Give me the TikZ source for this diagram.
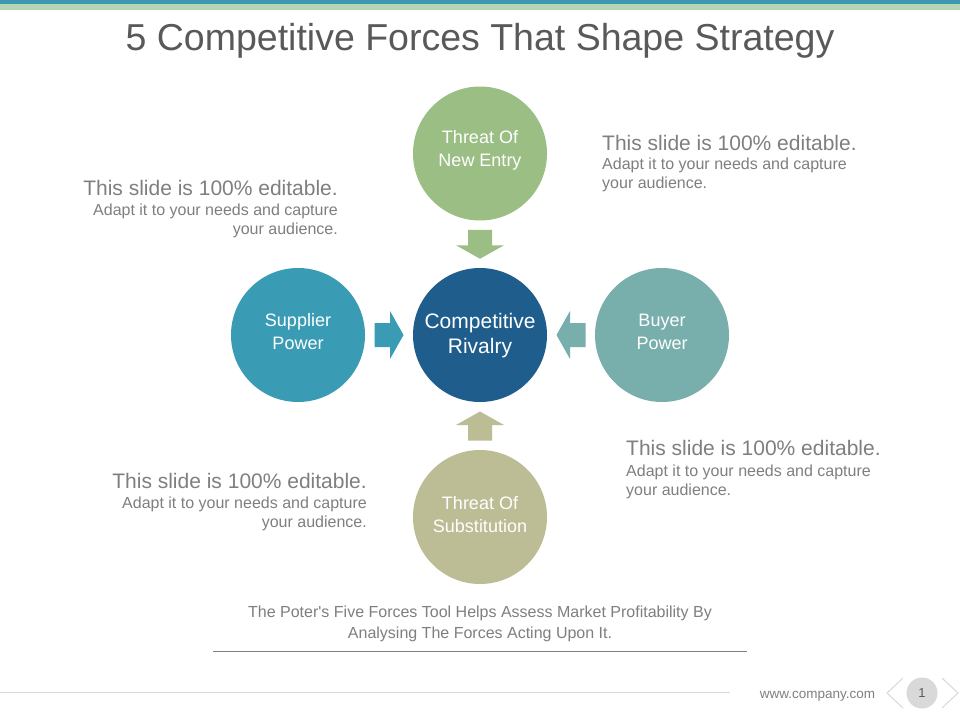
\documentclass[tikz,border=0pt]{standalone}
\usepackage{fontspec}
\setmainfont{Liberation Sans}
\usetikzlibrary{calc}
\definecolor{barteal}{HTML}{3D97B0}
\definecolor{bargreen}{HTML}{B6D5B3}
\definecolor{cgreen}{HTML}{9BBE84}
\definecolor{cblue}{HTML}{1F5E8C}
\definecolor{cteal}{HTML}{3A9BB5}
\definecolor{cslate}{HTML}{78AEAB}
\definecolor{colive}{HTML}{BCBD94}
\definecolor{titlegray}{HTML}{595959}
\definecolor{textgray}{HTML}{7F7F7F}
\definecolor{lightline}{HTML}{D9D9D9}
\definecolor{pagecirc}{HTML}{D9D9D9}
\newcommand{\fsz}[2]{\fontsize{#1}{#2}\selectfont}
\newcommand{\forcearrow}[3]{%
  \begin{scope}[shift={(#1)}, rotate=#2]
    \fill[#3] (-14.5,-12) -- (1,-12) -- (1,-24) -- (14.5,0) -- (1,24) -- (1,12) -- (-14.5,12) -- cycle;
  \end{scope}}
\tikzset{
  force/.style={circle, minimum size=134pt, inner sep=0pt},
  forcetext/.style={inner sep=0pt, text=white, align=center, font=\fsz{18}{23}},
  headtxt/.style={inner sep=0pt, text=textgray, font=\fsz{21}{25}},
  bodytxt/.style={inner sep=0pt, text=textgray, font=\fsz{16}{19}},
}
\begin{document}
\begin{tikzpicture}[x=1pt,y=-1pt]
\useasboundingbox (0,0) rectangle (960,720);
\fill[white] (0,0) rectangle (960,720);
% top bar
\fill[barteal] (0,0) rectangle (960,4);
\fill[bargreen] (0,4) rectangle (960,10);
% title
\node[inner sep=0pt, anchor=base, text=titlegray, font=\fsz{37.5}{42}] (title) at (480,50) {5 Competitive Forces That Shape Strategy};
% circles
\node[force, fill=cgreen] (entry) at (480,153.5) {};
\node[force, fill=cblue] (rivalry) at (480,335) {};
\node[force, fill=cteal] (supplier) at (298,335) {};
\node[force, fill=cslate] (buyer) at (662,335) {};
\node[force, fill=colive] (subst) at (480,517) {};
\node[forcetext] (entryT) at ($(entry)+(0,-3)$) {Threat Of\\New Entry};
\node[forcetext, font=\fsz{21}{25}] (rivalryT) at ($(rivalry)+(0,1)$) {Competitive\\Rivalry};
\node[forcetext] (supplierT) at ($(supplier)+(0,-3.5)$) {Supplier\\Power};
\node[forcetext] (buyerT) at ($(buyer)+(0,-3.5)$) {Buyer\\Power};
\node[forcetext] (substT) at ($(subst)+(0,-2.5)$) {Threat Of\\Substitution};
% arrows
\coordinate (aTop) at ($(entry.south)!0.5!(rivalry.north)$);
\coordinate (aLeft) at ($(supplier.east)!0.5!(rivalry.west)$);
\coordinate (aRight) at ($(buyer.west)!0.5!(rivalry.east)$);
\coordinate (aBottom) at ($(subst.north)!0.5!(rivalry.south)$);
\forcearrow{aTop}{-90}{cgreen}
\forcearrow{aLeft}{0}{cteal}
\forcearrow{aRight}{180}{cslate}
\forcearrow{aBottom}{90}{colive}
% text blocks: top left
\node[headtxt, anchor=base east] (tlh) at (338,195) {This slide is 100\% editable.};
\node[bodytxt, anchor=base east] (tl1) at (338,215) {Adapt it to your needs and capture};
\node[bodytxt, anchor=base east] (tl2) at (338,234) {your audience.};
% top right
\node[headtxt, anchor=base west] (trh) at (602,150) {This slide is 100\% editable.};
\node[bodytxt, anchor=base west] (tr1) at (602,169.5) {Adapt it to your needs and capture};
\node[bodytxt, anchor=base west] (tr2) at (602,188.5) {your audience.};
% bottom left
\node[headtxt, anchor=base east] (blh) at (367,488) {This slide is 100\% editable.};
\node[bodytxt, anchor=base east] (bl1) at (367,508.5) {Adapt it to your needs and capture};
\node[bodytxt, anchor=base east] (bl2) at (367,527.5) {your audience.};
% bottom right
\node[headtxt, anchor=base west] (brh) at (626,455.5) {This slide is 100\% editable.};
\node[bodytxt, anchor=base west] (br1) at (626,476) {Adapt it to your needs and capture};
\node[bodytxt, anchor=base west] (br2) at (626,495) {your audience.};
% caption
\node[bodytxt, anchor=base] (cap1) at (480,617) {The Poter\textquotesingle s Five Forces Tool Helps Assess Market Profitability By};
\node[bodytxt, anchor=base] (cap2) at (480,638) {Analysing The Forces Acting Upon It.};
\coordinate (sepL) at (213,651);
\coordinate (sepR) at (747,651);
\draw[textgray, line width=0.9pt] (sepL) -- (sepR);
% footer
\coordinate (footL) at (0,692);
\coordinate (footR) at (730,692);
\draw[lightline, line width=0.8pt] (footL) -- (footR);
\node[inner sep=0pt, anchor=base, text=textgray, font=\fsz{13.5}{15}] (url) at (817.5,698) {www.company.com};
\node[circle, fill=pagecirc, minimum size=31pt, inner sep=0pt, text=titlegray, font=\fsz{13}{15}] (page) at (922,693) {1};
\draw[lightline, line width=1pt] (903,678) -- (887,693) -- (903,708);
\draw[lightline, line width=1pt] (942,678) -- (958,693) -- (942,708);
\end{tikzpicture}
\end{document}
